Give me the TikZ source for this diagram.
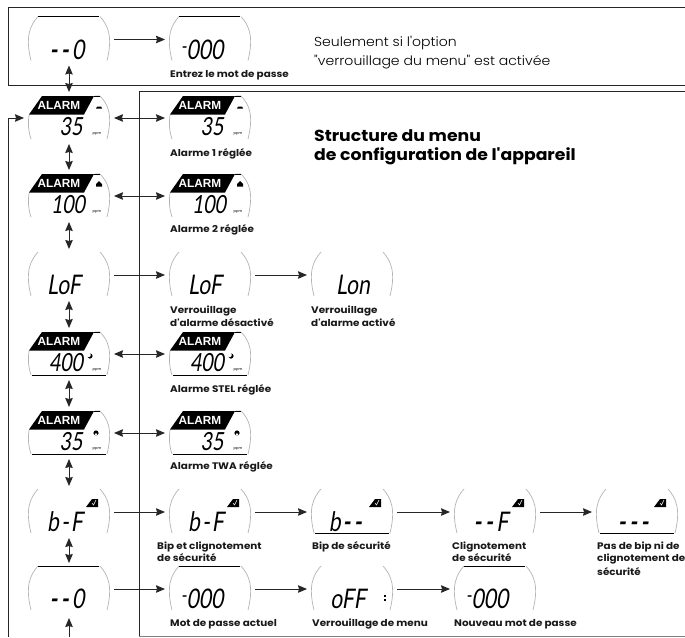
\documentclass[tikz,border=0pt]{standalone}
\usepackage{fontspec}
\usetikzlibrary{arrows.meta}
\setmainfont{Poppins}
\newfontfamily\lcdf[FakeSlant=0.16,FakeStretch=0.78]{Lato}
\newfontfamily\labf[FakeStretch=1.095]{Poppins Bold}
\newfontfamily\titlef[FakeStretch=1.08]{Poppins Bold}
\newfontfamily\lightf[FakeStretch=1.08]{Poppins Light}
\newfontfamily\alarmf{Liberation Sans Bold}
\newcommand\ap{\symbol{39}}
\newcommand\hidash{\raisebox{6pt}{\fontsize{20}{20}\selectfont -}}
\newcommand\dd{{\fontseries{b}\selectfont -}\kern3.5pt}
\definecolor{arcgrey}{HTML}{B4B4B4}
\tikzset{
 anch/.style={inner sep=0,outer sep=0,minimum width=90pt,minimum height=52pt},
 lcdtxt/.style={anchor=base,inner sep=0,font=\lcdf\fontsize{27}{27}\selectfont,text=black},
 lcdsm/.style={anchor=base,inner sep=0,font=\lcdf\fontsize{25}{25}\selectfont,text=black},
 lab/.style={anchor=west,inner sep=0,font=\labf\fontsize{9.5}{9.5}\selectfont,text=black!90},
 frameline/.style={draw=black!85,line width=0.9pt},
 arr/.style={draw=black!85,line width=0.9pt,-{Stealth[length=9pt,width=7.5pt,inset=1pt]}},
 darr/.style={draw=black!85,line width=0.9pt,{Stealth[length=9pt,width=7.5pt,inset=1pt]}-{Stealth[length=9pt,width=7.5pt,inset=1pt]}},
 arcl/.style={draw=arcgrey,line width=0.7pt},
 tiny/.style={inner sep=0,font=\fontsize{3.6}{3.6}\selectfont},
}
% plain display: name, x, y, text, text dx
\newcommand\lcd[5]{%
 \node[anch] (#1) at (#2,#3) {};
 \begin{scope}[shift={(#2,#3)}]
 \draw[arcl] (-31,-23) .. controls (-39,-14) and (-44,-3) .. (-38,21);
 \draw[arcl] (31,-23) .. controls (39,-14) and (44,-3) .. (38,21);
 \node[lcdtxt] (#1t) at (#5,19.5) {#4};
 \end{scope}}
% alarm display: name, x, y, text, text dx
\newcommand\lcdA[5]{%
 \node[anch] (#1) at (#2,#3) {};
 \begin{scope}[shift={(#2,#3)}]
 \draw[arcl] (-40,-3) .. controls (-41,4) and (-41,12) .. (-38,21);
 \draw[arcl] (26,-22) -- (31,-22) .. controls (39,-14) and (44,-3) .. (38,21);
 \draw[black,line width=0.5pt] (25,-22) -- (31,-22);
 \fill[black] (-27,-22) -- (25,-22) -- (15,-3.5) -- (-40,-3.5) -- cycle;
 \node[inner sep=0,text=white,font=\alarmf\fontsize{11.8}{11.8}\selectfont] (#1a) at (-10,-12.5) {ALARM};
 \node[lcdsm] (#1t) at (#5,17.5) {#4};
 \node[tiny] (#1p) at (28,16) {ppm};
 \end{scope}}
\newcommand\topln[2]{\draw[black,line width=0.7pt] (#1-31,#2-23) -- (#1+30,#2-23);}
\newcommand\botln[2]{\draw[black,line width=0.7pt] (#1-37,#2+21.5) -- (#1+37,#2+21.5);}
\newcommand\chk[2]{\fill[black] (#1+17,#2-5) -- (#1+23,#2-13) -- (#1+29,#2-13) -- (#1+29,#2-5) -- cycle;
 \draw[white,line width=0.5pt] (#1+23,#2-9) -- (#1+24.5,#2-7) -- (#1+27,#2-12);}
\begin{document}
\begin{tikzpicture}[x=1pt,y=-1pt]
\useasboundingbox (0,0) rectangle (685,637);
\fill[white] (0,0) rectangle (685,637);
% frames
\draw[frameline] (685,7) -- (8.5,7) -- (8.5,85) -- (685,85);
\draw[frameline] (685,91) -- (139,91) -- (139,636);
\draw[draw=black!50,line width=0.7pt] (139,636) -- (685,636);
% row 0
\lcd{ra}{69}{39.5}{\dd\dd 0}{-2} \topln{69}{39.5}
\lcd{rb}{210}{39.5}{\hidash 000}{-8} \topln{210}{39.5}
% row 1
\lcdA{aa}{69}{118}{35}{2}
\lcdA{ab}{210}{118}{35}{2}
% row 2
\lcdA{ba}{69}{196}{100}{-1}
\lcdA{bb}{210}{196}{100}{-1}
% row 3
\lcd{ca}{69}{275}{LoF}{-5}
\lcd{cb}{210}{275}{LoF}{-5}
\lcd{cc}{352}{275}{Lon}{1}
% row 4
\lcdA{da}{69}{354}{400}{-3} \botln{69}{354}
\lcdA{db}{210}{354}{400}{-3} \botln{210}{354}
% row 5
\lcdA{ea}{69}{433}{35}{2} \botln{69}{433}
\lcdA{eb}{210}{433}{35}{2} \botln{210}{433}
% row 6
\lcd{fa}{69}{512}{b\kern2pt-\kern2pt F}{-4} \chk{69}{512}
\lcd{fb}{210}{512}{b\kern2pt-\kern2pt F}{-4} \chk{210}{512}
\lcd{fc}{352}{512}{b\kern2pt\dd\dd}{-5} \chk{352}{512} \botln{352}{512}
\lcd{fd}{495}{512}{\dd\dd F}{-4} \chk{495}{512}
\lcd{fe}{637}{512}{\dd\dd\dd}{-2} \chk{637}{512} \botln{637}{512}
% row 7
\lcd{ga}{69}{589}{\dd\dd 0}{-2} \topln{69}{589}
\lcd{gb}{210}{589}{\hidash 000}{-8} \topln{210}{589}
\lcd{gc}{352}{589}{oFF}{-4}
\lcd{gd}{495}{589}{\hidash 000}{-8} \topln{495}{589}
% small marks
\foreach \xx in {69,210}{
 \fill[black] (\xx+28,106.5) -- (\xx+32,106.5) -- (\xx+33,108.5) -- (\xx+27,108.5) -- cycle;
 \fill[black] (\xx+30,181) -- (\xx+33,184) -- (\xx+33,186.5) -- (\xx+27,186.5) -- (\xx+27,184) -- cycle;
 \fill[black] (\xx+21,356) circle (2.6);
 \fill[white] (\xx+19.6,355) circle (2.2);
 \fill[black] (\xx+27,433) circle (2.6);
 \fill[white] (\xx+27,434.5) circle (1.3);
}
\fill[black] (384,594.5) rectangle (386,596.5);
\fill[black] (384,599) rectangle (386,601);
% connectors
\coordinate (fbk) at (8.5,637);
\coordinate (upk) at (69,637);
\draw[arr] (fbk) |- (aa.west);
\draw[arr,shorten >=3pt] (upk) -- (ga.south);
\draw[darr] (ra.south) -- (aa.north);
\draw[darr] (aa.south) -- (ba.north);
\draw[darr] (ba.south) -- (ca.north);
\draw[darr] (ca.south) -- (da.north);
\draw[darr] (da.south) -- (ea.north);
\draw[darr] (ea.south) -- (fa.north);
\draw[darr] (fa.south) -- (ga.north);
\draw[arr] (ra.east) -- (rb.west);
\draw[darr] (aa.east) -- (ab.west);
\draw[darr] (ba.east) -- (bb.west);
\draw[arr] (ca.east) -- (cb.west);
\draw[arr] (cb.east) -- (cc.west);
\draw[darr] (da.east) -- (db.west);
\draw[darr] (ea.east) -- (eb.west);
\draw[arr] (fa.east) -- (fb.west);
\draw[arr] (fb.east) -- (fc.west);
\draw[arr] (fc.east) -- (fd.west);
\draw[arr] (fd.east) -- (fe.west);
\draw[arr] (ga.east) -- (gb.west);
\draw[arr] (gb.east) -- (gc.west);
\draw[arr] (gc.east) -- (gd.west);
% labels
\node[lab] (l1) at (170,75.5) {Entrez le mot de passe};
\node[lab] (l2) at (170,154) {Alarme 1 réglée};
\node[lab] (l3) at (170,230) {Alarme 2 réglée};
\node[lab] (l4) at (170,311) {Verrouillage};
\node[lab] (l5) at (170,323) {d\ap alarme désactivé};
\node[lab] (l6) at (311,311) {Verrouillage};
\node[lab] (l7) at (311,323) {d\ap alarme activé};
\node[lab] (l8) at (170,390) {Alarme STEL réglée};
\node[lab] (l9) at (170,467) {Alarme TWA réglée};
\node[lab] (l10) at (157,547) {Bip et clignotement};
\node[lab] (l11) at (157,558) {de sécurité};
\node[lab] (l12) at (312,547) {Bip de sécurité};
\node[lab] (l13) at (452,547) {Clignotement};
\node[lab] (l14) at (452,558) {de sécurité};
\node[lab] (l15) at (597,547) {Pas de bip ni de};
\node[lab] (l16) at (597,559) {clignotement de};
\node[lab] (l17) at (597,572) {sécurité};
\node[lab] (l18) at (170,624) {Mot de passe actuel};
\node[lab] (l19) at (312,624) {Verrouillage de menu};
\node[lab] (l20) at (454,624) {Nouveau mot de passe};
\node[anchor=west,inner sep=0,font=\lightf\fontsize{13}{13}\selectfont] (t1) at (314,43) {Seulement si l\ap option};
\node[anchor=west,inner sep=0,font=\lightf\fontsize{13}{13}\selectfont] (t2) at (314,62.5) {"verrouillage du menu" est activée};
\node[anchor=west,inner sep=0,font=\titlef\fontsize{16}{16}\selectfont] (t3) at (314,136) {Structure du menu};
\node[anchor=west,inner sep=0,font=\titlef\fontsize{16}{16}\selectfont] (t4) at (314,156) {de configuration de l\ap appareil};
\end{tikzpicture}
\end{document}
